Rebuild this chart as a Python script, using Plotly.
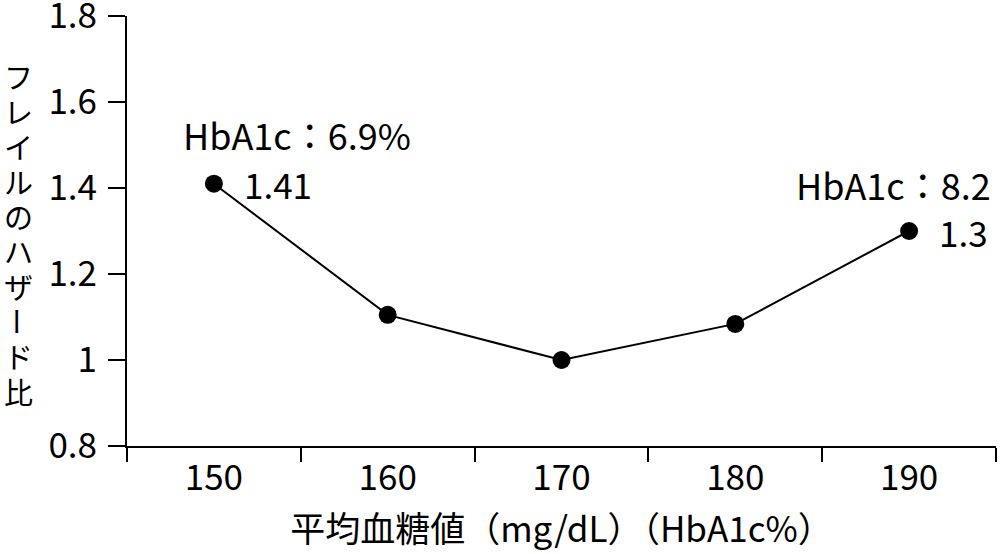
import plotly.graph_objects as go

categories = ["150", "160", "170", "180", "190"]
hazard = [1.41, 1.105, 1.0, 1.084, 1.30]
y_ticks = [0.8, 1.0, 1.2, 1.4, 1.6, 1.8]
y_tick_text = ["0.8", "1", "1.2", "1.4", "1.6", "1.8"]
y_title_chars = ["フ", "レ", "イ", "ル", "の", "ハ", "ザ", "ー", "ド", "比"]
x_title = "平均血糖値（mg/dL）（HbA1c%）"
value_labels = ["1.41", "", "", "", "1.3"]
hba1c_labels = ["HbA1c：6.9%", "", "", "", "HbA1c：8.2"]

FONT = "Noto Sans CJK JP"
W, H = 1000, 554
ML, MR, MT, MB = 127, 4, 16, 108

fig = go.Figure()
fig.add_trace(go.Scatter(
    x=categories, y=hazard, mode="lines+markers",
    line=dict(color="black", width=2),
    marker=dict(color="black", size=18),
    showlegend=False, hoverinfo="skip",
))

ann = []
for i, (cat, val) in enumerate(zip(categories, hazard)):
    if value_labels[i]:
        ann.append(dict(x=i, y=val, xref="x", yref="y", text=value_labels[i],
                        showarrow=False, xanchor="left", yanchor="middle",
                        xshift=28, yshift=0,
                        font=dict(size=35, color="black", family=FONT)))
    if hba1c_labels[i]:
        if i == 0:
            ann.append(dict(x=i, y=val, xref="x", yref="y", text=hba1c_labels[i],
                            showarrow=False, xanchor="left", yanchor="middle",
                            xshift=-33, yshift=50,
                            font=dict(size=36, color="black", family=FONT)))
        else:
            ann.append(dict(x=i, y=val, xref="x", yref="y", text=hba1c_labels[i],
                            showarrow=False, xanchor="right", yanchor="middle",
                            xshift=84, yshift=47,
                            font=dict(size=36, color="black", family=FONT)))

# vertical y-axis title: upright characters stacked, one per annotation
plot_w = W - ML - MR
plot_h = H - MT - MB
start_pix, step_pix = 76, 35
for k, ch in enumerate(y_title_chars):
    ypix = start_pix + k * step_pix
    ann.append(dict(x=(18 - ML) / plot_w, y=1 - (ypix - MT) / plot_h,
                    xref="paper", yref="paper", text=ch, showarrow=False,
                    xanchor="center", yanchor="middle",
                    textangle=90 if ch == "ー" else 0,
                    font=dict(size=29, color="black", family=FONT)))

fig.update_layout(
    width=W, height=H,
    margin=dict(l=ML, r=MR, t=MT, b=MB),
    paper_bgcolor="white", plot_bgcolor="white",
    font=dict(family=FONT, color="black", size=35),
    annotations=ann,
    xaxis=dict(
        type="category", range=[-0.5, 4.5], tickson="boundaries",
        ticks="outside", ticklen=14, tickwidth=2, tickcolor="black",
        showline=True, linecolor="black", linewidth=2,
        showgrid=False, zeroline=False, automargin=False,
        tickfont=dict(size=35, family=FONT, color="black"),
        title=dict(text=x_title, font=dict(size=35, family=FONT, color="black"), standoff=18),
    ),
    yaxis=dict(
        range=[0.8, 1.8], tickvals=y_ticks, ticktext=y_tick_text,
        ticks="outside", ticklen=17, tickwidth=2, tickcolor="black",
        showline=True, linecolor="black", linewidth=2,
        showgrid=False, zeroline=False, automargin=False,
        tickfont=dict(size=35, family=FONT, color="black"),
        ticklabelstandoff=4, ticklabeloverflow="allow",
    ),
)

fig.write_html("out.html")
